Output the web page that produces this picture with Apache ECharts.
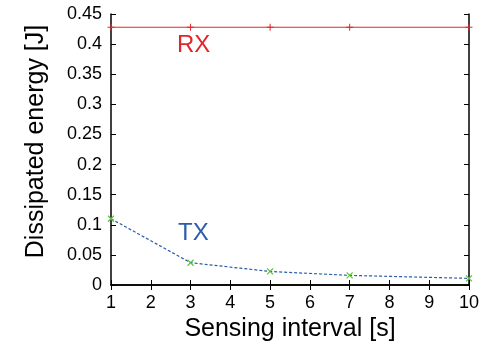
<!DOCTYPE html>
<html><head><meta charset="utf-8">
<script src="https://cdn.jsdelivr.net/npm/echarts@6/dist/echarts.min.js"></script>
<style>html,body{margin:0;padding:0;background:#fff}#c{width:495px;height:352px}</style>
</head><body><div id="c"></div>
<script>
const xValues = [1, 3, 5, 7, 10];
const rxValues = [0.428, 0.428, 0.428, 0.428, 0.428];
const txValues = [0.110, 0.037, 0.0225, 0.016, 0.011];
const yTicks = [0, 0.05, 0.1, 0.15, 0.2, 0.25, 0.3, 0.35, 0.4, 0.45];
const xTicks = [1, 2, 3, 4, 5, 6, 7, 8, 9, 10];

const font = 'Liberation Sans, Arial, sans-serif';
const chart = echarts.init(document.getElementById('c'));
const axisLine = {show: true, lineStyle: {color: '#000', width: 1.5}};
const tick = {show: true, inside: true, length: 5, lineStyle: {color: '#000', width: 1}};
const plus = 'path://M0,5L10,5M5,0L5,10';
const cross = 'path://M0,0L10,10M10,0L0,10';
chart.setOption({
  animation: false,
  grid: {left: 111, right: 26, top: 14, bottom: 67},
  xAxis: [{
    type: 'value', min: 1, max: 10, interval: 1,
    name: 'Sensing interval [s]', nameLocation: 'middle', nameGap: 32,
    nameTextStyle: {fontFamily: font, fontSize: 25, color: '#000'},
    axisLine, axisTick: tick, splitLine: {show: false},
    axisLabel: {fontFamily: font, fontSize: 18, color: '#000', margin: 9,
      formatter: v => xTicks.includes(v) ? String(v) : ''}
  }, {
    type: 'value', min: 1, max: 10, interval: 1, position: 'top',
    axisLine, axisTick: tick, axisLabel: {show: false}, splitLine: {show: false}
  }],
  yAxis: [{
    type: 'value', min: 0, max: 0.45, interval: 0.05,
    name: 'Dissipated energy [J]', nameLocation: 'middle', nameGap: 62,
    nameTextStyle: {fontFamily: font, fontSize: 25, color: '#000', padding: [0, 0, 0, 16]},
    axisLine, axisTick: tick, splitLine: {show: false},
    axisLabel: {fontFamily: font, fontSize: 18, color: '#000', margin: 9,
      formatter: v => { const t = yTicks.find(k => Math.abs(k - v) < 1e-9); return t === undefined ? '' : String(t); }}
  }, {
    type: 'value', min: 0, max: 0.45, interval: 0.05, position: 'right',
    axisLine, axisTick: tick, axisLabel: {show: false}, splitLine: {show: false}
  }],
  series: [{
    type: 'line', data: xValues.map((x, i) => [x, rxValues[i]]),
    lineStyle: {color: '#e0262b', width: 1},
    symbol: plus, symbolSize: 7, itemStyle: {color: 'none', borderColor: '#e0262b', borderWidth: 1},
    z: 3
  }, {
    type: 'line', data: xValues.map((x, i) => [x, txValues[i]]),
    lineStyle: {color: '#2a5caa', width: 1.2, type: [3, 2]},
    symbol: cross, symbolSize: 6, itemStyle: {color: 'none', borderColor: '#5fc040', borderWidth: 1.2},
    z: 3
  }],
  graphic: [
    {type: 'text', left: 177, top: 33, style: {text: 'RX', fontFamily: font, fontSize: 24, fill: '#e0262b'}},
    {type: 'text', left: 178, top: 221, style: {text: 'TX', fontFamily: font, fontSize: 24, fill: '#2a5caa'}}
  ]
});
</script></body></html>
